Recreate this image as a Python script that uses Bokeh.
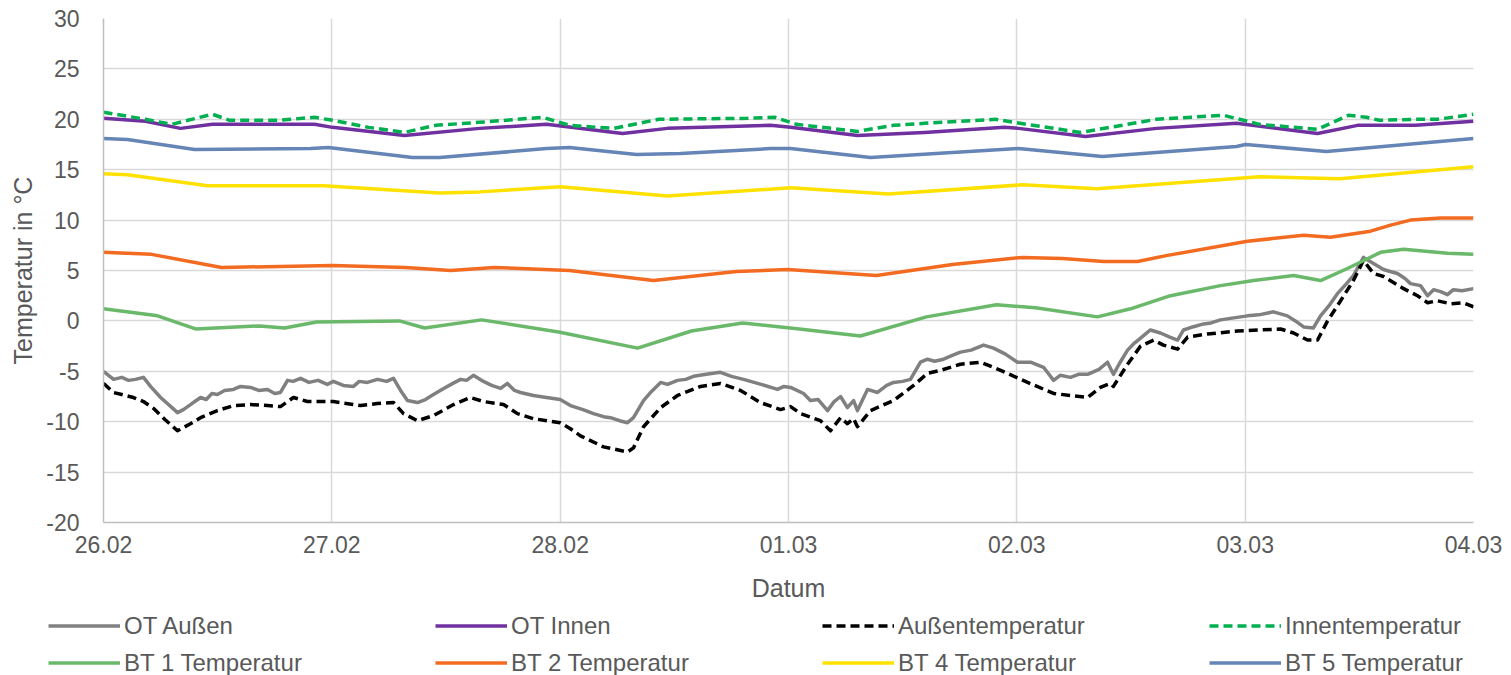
import pandas as pd
from bokeh.plotting import figure
from bokeh.models import (FixedTicker, DatetimeTickFormatter, Legend, LegendItem, Range1d)
from bokeh.embed import file_html
from bokeh.resources import INLINE

# ---------------- data (day offsets from 26.02.2023 00:00, temperatures in °C) ----------------
start = pd.Timestamp("2023-02-26")
tick_labels = ["26.02", "27.02", "28.02", "01.03", "02.03", "03.03", "04.03"]
y_ticks = [-20, -15, -10, -5, 0, 5, 10, 15, 20, 25, 30]

ot_aussen_d = [0.0, 0.044, 0.08, 0.11, 0.14, 0.175, 0.206, 0.25, 0.30, 0.324, 0.35, 0.381, 0.40, 0.425, 0.45,
               0.475, 0.499, 0.53, 0.569, 0.60, 0.644, 0.68, 0.718, 0.75, 0.775, 0.806, 0.83, 0.863, 0.90, 0.94,
               0.98, 1.007, 1.05, 1.095, 1.12, 1.156, 1.20, 1.24, 1.27, 1.301, 1.331, 1.375, 1.41, 1.445, 1.49,
               1.53, 1.564, 1.59, 1.62, 1.664, 1.70, 1.739, 1.769, 1.80, 1.826, 1.883, 1.94, 2.0, 2.045, 2.10,
               2.146, 2.19, 2.22, 2.26, 2.295, 2.321, 2.365, 2.40, 2.44, 2.47, 2.514, 2.55, 2.584, 2.64, 2.702,
               2.75, 2.803, 2.88, 2.952, 2.98, 3.009, 3.066, 3.096, 3.13, 3.171, 3.20, 3.228, 3.258, 3.285,
               3.302, 3.346, 3.39, 3.43, 3.46, 3.50, 3.534, 3.578, 3.609, 3.64, 3.679, 3.72, 3.753, 3.80, 3.854,
               3.898, 3.95, 4.003, 4.06, 4.117, 4.161, 4.19, 4.235, 4.27, 4.31, 4.36, 4.397, 4.423, 4.45, 4.485,
               4.515, 4.542, 4.585, 4.629, 4.67, 4.704, 4.73, 4.77, 4.818, 4.85, 4.892, 4.95, 5.010, 5.06, 5.124,
               5.185, 5.22, 5.256, 5.299, 5.33, 5.37, 5.404, 5.44, 5.474, 5.518, 5.562, 5.606, 5.635, 5.667,
               5.70, 5.724, 5.768, 5.799, 5.825, 5.856, 5.886, 5.912, 5.95, 6.0]
ot_aussen_v = [-5.0, -5.8, -5.6, -5.9, -5.8, -5.6, -6.5, -7.6, -8.6, -9.1, -8.8, -8.3, -8.0, -7.6, -7.8,
               -7.2, -7.3, -6.9, -6.8, -6.5, -6.6, -6.9, -6.8, -7.2, -7.1, -5.9, -6.0, -5.7, -6.1, -5.9,
               -6.3, -6.0, -6.4, -6.5, -6.0, -6.1, -5.8, -6.0, -5.7, -6.9, -7.9, -8.1, -7.8, -7.3, -6.7,
               -6.2, -5.8, -5.9, -5.4, -6.0, -6.4, -6.7, -6.2, -6.9, -7.1, -7.4, -7.6, -7.8, -8.4, -8.8,
               -9.2, -9.5, -9.6, -9.9, -10.1, -9.6, -7.9, -7.0, -6.1, -6.3, -5.9, -5.8, -5.5, -5.3, -5.1,
               -5.5, -5.8, -6.3, -6.8, -6.5, -6.6, -7.2, -7.9, -7.8, -8.9, -8.0, -7.5, -8.6, -7.9,
               -8.9, -6.8, -7.1, -6.4, -6.1, -6.0, -5.8, -4.1, -3.8, -4.0, -3.8, -3.4, -3.1, -2.9, -2.4,
               -2.7, -3.3, -4.1, -4.1, -4.6, -5.9, -5.4, -5.6, -5.3, -5.3, -4.8, -4.1, -5.3, -4.2, -2.9,
               -2.2, -1.7, -0.9, -1.2, -1.6, -1.9, -0.9, -0.6, -0.3, -0.2, 0.1, 0.3, 0.5, 0.6, 0.9,
               0.5, 0.0, -0.6, -0.7, 0.5, 1.6, 2.7, 3.6, 4.5, 6.3, 5.7, 5.1, 4.9, 4.7,
               4.2, 3.7, 3.5, 2.5, 3.1, 2.9, 2.6, 3.1, 3.0, 3.2]

ot_innen_d = [0.0, 0.184, 0.337, 0.477, 0.924, 1.003, 1.318, 1.647, 1.940, 2.273, 2.470, 2.921, 3.009,
              3.302, 3.596, 3.946, 4.007, 4.301, 4.612, 4.962, 5.317, 5.492, 5.746, 6.0]
ot_innen_v = [20.1, 19.8, 19.1, 19.5, 19.5, 19.2, 18.4, 19.1, 19.5, 18.6, 19.1, 19.4, 19.2,
              18.4, 18.7, 19.2, 19.1, 18.3, 19.1, 19.6, 18.6, 19.4, 19.4, 19.8]

aussen_d = [0.0, 0.044, 0.131, 0.175, 0.22, 0.27, 0.324, 0.381, 0.425, 0.499, 0.569, 0.644, 0.718, 0.775,
            0.832, 0.893, 1.007, 1.126, 1.20, 1.27, 1.314, 1.375, 1.445, 1.533, 1.607, 1.664, 1.752, 1.813,
            1.883, 2.0, 2.045, 2.089, 2.190, 2.295, 2.321, 2.365, 2.440, 2.514, 2.615, 2.702, 2.790, 2.877,
            2.965, 3.009, 3.053, 3.140, 3.184, 3.228, 3.258, 3.285, 3.302, 3.359, 3.460, 3.548, 3.609, 3.666,
            3.753, 3.841, 3.929, 4.047, 4.161, 4.310, 4.366, 4.410, 4.423, 4.485, 4.542, 4.599, 4.642, 4.704,
            4.748, 4.835, 4.967, 5.155, 5.212, 5.273, 5.317, 5.361, 5.418, 5.474, 5.518, 5.562, 5.606, 5.694,
            5.755, 5.799, 5.842, 5.899, 5.956, 6.0]
aussen_v = [-6.2, -7.1, -7.6, -8.0, -8.7, -9.8, -10.9, -10.2, -9.6, -8.9, -8.4, -8.3, -8.4, -8.5,
            -7.6, -8.0, -8.0, -8.4, -8.2, -8.1, -9.2, -9.9, -9.4, -8.3, -7.6, -8.0, -8.3, -9.2,
            -9.7, -10.1, -10.7, -11.4, -12.5, -13.0, -12.6, -10.5, -8.6, -7.4, -6.5, -6.2, -6.9, -8.1,
            -8.8, -8.5, -9.2, -9.9, -10.9, -9.6, -10.2, -9.7, -10.5, -8.9, -7.9, -6.4, -5.2, -4.9,
            -4.3, -4.1, -4.9, -6.1, -7.2, -7.6, -6.6, -6.2, -6.5, -4.3, -2.5, -1.9, -2.4, -2.8,
            -1.6, -1.3, -1.0, -0.8, -1.2, -1.9, -1.9, 0.0, 2.0, 4.0, 6.0, 4.7, 4.4, 3.2,
            2.5, 1.8, 2.0, 1.7, 1.8, 1.4]

innen_d = [0.0, 0.184, 0.298, 0.477, 0.552, 0.771, 0.924, 1.003, 1.161, 1.318, 1.454, 1.647, 1.923, 2.041,
           2.234, 2.431, 2.820, 2.939, 3.035, 3.302, 3.460, 3.596, 3.907, 3.985, 4.279, 4.612, 4.905, 5.063,
           5.317, 5.453, 5.531, 5.588, 5.746, 5.842, 6.0]
innen_v = [20.7, 20.0, 19.5, 20.5, 19.9, 19.9, 20.2, 19.9, 19.2, 18.7, 19.4, 19.7, 20.2, 19.4,
           19.1, 20.0, 20.1, 20.2, 19.5, 18.8, 19.4, 19.6, 20.0, 19.7, 18.7, 20.0, 20.4, 19.5,
           19.0, 20.4, 20.2, 19.9, 20.0, 20.0, 20.5]

bt1_d = [0.0, 0.237, 0.403, 0.683, 0.793, 0.933, 1.296, 1.406, 1.656, 1.993, 2.339, 2.575, 2.799, 3.048,
         3.315, 3.604, 3.911, 4.082, 4.353, 4.498, 4.673, 4.892, 5.037, 5.212, 5.330, 5.448, 5.593, 5.694,
         5.886, 6.0]
bt1_v = [1.2, 0.5, -0.8, -0.5, -0.7, -0.1, 0.0, -0.7, 0.1, -1.1, -2.7, -1.0, -0.2, -0.8,
         -1.5, 0.4, 1.6, 1.3, 0.4, 1.2, 2.5, 3.5, 4.0, 4.5, 4.0, 5.2, 6.8, 7.1,
         6.7, 6.6]

bt2_d = [0.0, 0.210, 0.517, 1.003, 1.323, 1.520, 1.712, 2.041, 2.409, 2.772, 2.996, 3.385, 3.718, 4.025,
         4.20, 4.380, 4.529, 4.660, 5.010, 5.256, 5.374, 5.549, 5.637, 5.724, 5.856, 6.0]
bt2_v = [6.8, 6.6, 5.3, 5.5, 5.3, 5.0, 5.3, 5.0, 4.0, 4.9, 5.1, 4.5, 5.6, 6.3,
         6.2, 5.9, 5.9, 6.5, 7.9, 8.5, 8.3, 8.9, 9.5, 10.0, 10.2, 10.2]

bt4_d = [0.0, 0.105, 0.455, 0.964, 1.472, 1.647, 2.001, 2.470, 3.009, 3.438, 4.025, 4.35, 5.063, 5.413, 6.0]
bt4_v = [14.6, 14.5, 13.4, 13.4, 12.7, 12.8, 13.3, 12.4, 13.2, 12.6, 13.5, 13.1, 14.3, 14.1, 15.3]

bt5_d = [0.0, 0.105, 0.399, 0.907, 0.985, 1.353, 1.472, 1.940, 2.041, 2.334, 2.527, 2.921, 3.009, 3.359,
         4.007, 4.375, 4.962, 5.002, 5.356, 6.0]
bt5_v = [18.1, 18.0, 17.0, 17.1, 17.2, 16.2, 16.2, 17.1, 17.2, 16.5, 16.6, 17.1, 17.1, 16.2,
         17.1, 16.3, 17.3, 17.5, 16.8, 18.1]

series = [
    ("OT Außen", ot_aussen_d, ot_aussen_v, "#808080", "solid"),
    ("OT Innen", ot_innen_d, ot_innen_v, "#7030A0", "solid"),
    ("Außentemperatur", aussen_d, aussen_v, "#000000", "9 5"),
    ("Innentemperatur", innen_d, innen_v, "#00B050", "9 5"),
    ("BT 1 Temperatur", bt1_d, bt1_v, "#6AB86A", "solid"),
    ("BT 2 Temperatur", bt2_d, bt2_v, "#F26B21", "solid"),
    ("BT 4 Temperatur", bt4_d, bt4_v, "#FFE100", "solid"),
    ("BT 5 Temperatur", bt5_d, bt5_v, "#6485B5", "solid"),
]


def to_dt(days):
    return start + pd.to_timedelta(days, unit="D")


FONT = "Liberation Sans"
TXT = "#595959"
LW = 3.5

# ---------------- main chart ----------------
p = figure(frame_width=1370, frame_height=504, x_axis_type="datetime", output_backend="svg",
           toolbar_location=None, min_border_left=103, min_border_right=38, min_border_top=18,
           min_border_bottom=85)
p.x_range = Range1d(to_dt(0), to_dt(6))
p.y_range = Range1d(-20, 30)
p.outline_line_color = None
p.background_fill_color = "white"

for name, d, v, col, dash in series:
    p.line(to_dt(pd.Series(d)), v, line_color=col, line_width=LW, line_dash=dash,
           line_join="round", line_cap="butt")

day_ms = [to_dt(i).value / 1e6 for i in range(len(tick_labels))]
p.xaxis.ticker = FixedTicker(ticks=day_ms)
p.xaxis.formatter = DatetimeTickFormatter(days="%d.%m", months="%d.%m", hours="%d.%m", minutes="%d.%m",
                                          years="%d.%m")
p.xaxis.major_label_overrides = {ms: lab for ms, lab in zip(day_ms, tick_labels)}
p.yaxis.ticker = FixedTicker(ticks=y_ticks)
p.yaxis.major_label_overrides = {t: str(t) for t in y_ticks}

for ax in (p.xaxis[0], p.yaxis[0]):
    ax.major_tick_line_color = None
    ax.minor_tick_line_color = None
    ax.axis_line_color = "#BFBFBF"
    ax.axis_line_width = 1.5
    ax.major_label_text_font = FONT
    ax.major_label_text_font_size = "23px"
    ax.major_label_text_color = TXT
    ax.axis_label_text_font = FONT
    ax.axis_label_text_font_size = "25px"
    ax.axis_label_text_font_style = "normal"
    ax.axis_label_text_color = TXT

p.xaxis.axis_label = "Datum"
p.yaxis.axis_label = "Temperatur in °C"
p.xaxis.major_label_standoff = 7
p.xaxis.axis_label_standoff = 18
p.yaxis.major_label_standoff = 18
p.yaxis.axis_label_standoff = 6

p.xgrid.ticker = FixedTicker(ticks=day_ms)
p.ygrid.ticker = FixedTicker(ticks=y_ticks)
p.grid.grid_line_color = "#D9D9D9"
p.grid.grid_line_width = 1.5

# ---------------- legend strip (own root, full width) ----------------
lg = figure(width=1511, height=68, output_backend="svg", toolbar_location=None,
            min_border_left=0, min_border_right=0, min_border_top=0, min_border_bottom=0,
            x_range=Range1d(0, 1), y_range=Range1d(0, 1))
lg.outline_line_color = None
lg.axis.visible = False
lg.grid.visible = False

items = []
for name, d, v, col, dash in series:
    # renderer kept outside the visible range; it only supplies the legend swatch
    r = lg.line(x=[5, 6], y=[5, 6], line_color=col, line_width=LW, line_dash=dash, line_cap="butt")
    items.append(LegendItem(label=name, renderers=[r]))

common = dict(orientation="horizontal", glyph_width=72, glyph_height=37, label_height=37,
              label_width=311, label_standoff=4, spacing=0, padding=0, margin=0,
              border_line_alpha=0, background_fill_alpha=0, label_text_font=FONT,
              label_text_font_size="24px", label_text_color=TXT)
lg.add_layout(Legend(items=items[:4], location=(48, 31), **common), "center")
lg.add_layout(Legend(items=items[4:], location=(48, -6), **common), "center")

open("out.html", "w").write(file_html([p, lg], INLINE))
